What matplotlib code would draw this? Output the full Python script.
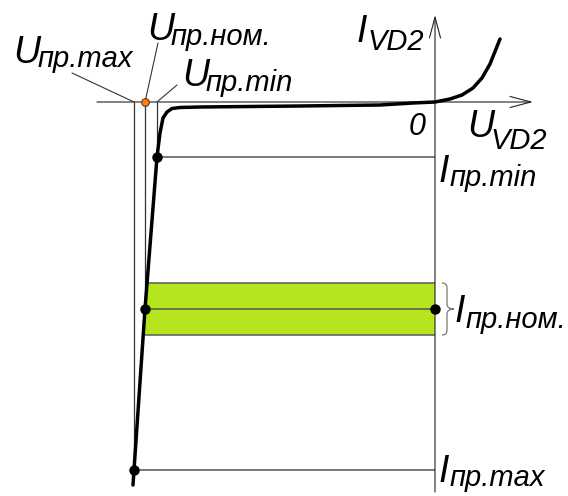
import matplotlib.pyplot as plt
from matplotlib.path import Path
from matplotlib.patches import PathPatch

# Zener diode I-V characteristic (schematic): U in V, I in mA
u_curve = [-30.2, -30.1, -29.0, -27.8, -27.5, -27.2, -26.8, -26.3, -25.5, -23.5,
           -13.5, -5.5, -2.2, 0.0, 1.5, 2.7, 3.8, 4.7, 5.5, 6.5]
i_curve = [-38.3, -36.8, -20.7, -5.5, -3.1, -1.6, -1.0, -0.65, -0.55, -0.5,
           -0.4, -0.3, -0.1, 0.0, 0.3, 0.7, 1.4, 2.4, 3.8, 6.3]

# operating points: min, nom, max
u_op = [-27.8, -29.0, -30.1]
i_op = [-5.5, -20.7, -36.8]
u_nom, i_nom = u_op[1], i_op[1]

# allowed range of the nominal current
i_band = [-18.1, -23.3]

W, H = 568, 496
fig = plt.figure(figsize=(W / 100, H / 100), dpi=100)
ax = fig.add_axes([0, 0, 1, 1])
ax.set_xlim(-43.5, 13.3)
ax.set_ylim(-39.4, 10.2)
ax.axis('off')

# nominal current band
ax.fill_between([u_nom, 0], i_band[1], i_band[0], color='#b5e61d', lw=0, zorder=1)
ax.hlines(i_band, u_nom, 0, color='#666666', lw=1.2, zorder=2)

# guide lines to the axes
for u, i in zip(u_op, i_op):
    ax.vlines(u, i, 0, color='#333333', lw=0.9, zorder=2)
    ax.hlines(i, u, 0, color='#555555', lw=1.1, zorder=2)

# axes with open arrow heads
arr = dict(arrowstyle='->,head_length=1.5,head_width=0.4', lw=0.8,
           color='#222222', shrinkA=0, shrinkB=0)
ax.annotate('', xy=(9.8, 0), xytext=(-33.8, 0), arrowprops=arr, zorder=3)
ax.annotate('', xy=(0, 8.7), xytext=(0, -39.0), arrowprops=arr, zorder=3)

# characteristic
ax.plot(u_curve, i_curve, color='black', lw=2.5, solid_joinstyle='round',
        solid_capstyle='round', zorder=4)

# points
ax.plot(u_op, i_op, 'o', color='black', ms=6.5, zorder=5)
ax.plot(0, i_nom, 'o', color='black', ms=6.5, zorder=5)
ax.plot(u_nom, 0, 'o', mfc='#f58220', mec='#7a2e00', ms=5.5, mew=0.8, zorder=5)

# leader lines from voltage labels
lead = dict(arrowstyle='-', lw=0.8, color='#333333', shrinkA=0, shrinkB=0)
for u, start in zip(u_op, [(-25.8, 1.7), (-27.7, 5.9), (-36.3, 2.9)]):
    ax.annotate('', xy=(u, 0), xytext=start, arrowprops=lead)

# brace next to the band
x0, xs, xt, r = 0.7, 1.2, 1.9, 0.5
top, bot = i_band
verts = [(x0, top), (xs, top), (xs, top - r),
         (xs, i_nom + r), (xs, i_nom), (xt, i_nom),
         (xs, i_nom), (xs, i_nom - r),
         (xs, bot + r), (xs, bot), (x0, bot)]
codes = [Path.MOVETO, Path.CURVE3, Path.CURVE3,
         Path.LINETO, Path.CURVE3, Path.CURVE3,
         Path.CURVE3, Path.CURVE3,
         Path.LINETO, Path.CURVE3, Path.CURVE3]
ax.add_patch(PathPatch(Path(verts, codes), fc='none', ec='#777777', lw=0.9))


def put(x, y, s, size):
    fig.text(x / W, 1 - y / H, s, fontsize=size, family='Liberation Sans',
             style='italic', ha='left', va='baseline')


big, small = 27, 21
put(13, 63, 'U', big)
put(38, 67, 'пр.max', small)
put(147, 40, 'U', big)
put(171, 45, 'пр.ном.', small)
put(182, 86, 'U', big)
put(206, 91, 'пр.min', small)
put(357, 42, 'I', big)
put(367, 50, 'VD2', small)
put(409, 135, '0', 22)
put(467, 137, 'U', big)
put(490, 149, 'VD2', small)
put(439, 182, 'I', big)
put(450, 186, 'пр.min', small)
put(455, 322, 'I', big)
put(466, 328, 'пр.ном.', small)
put(439, 482, 'I', big)
put(450, 486, 'пр.max', small)

fig.savefig('out.png', dpi=100)
